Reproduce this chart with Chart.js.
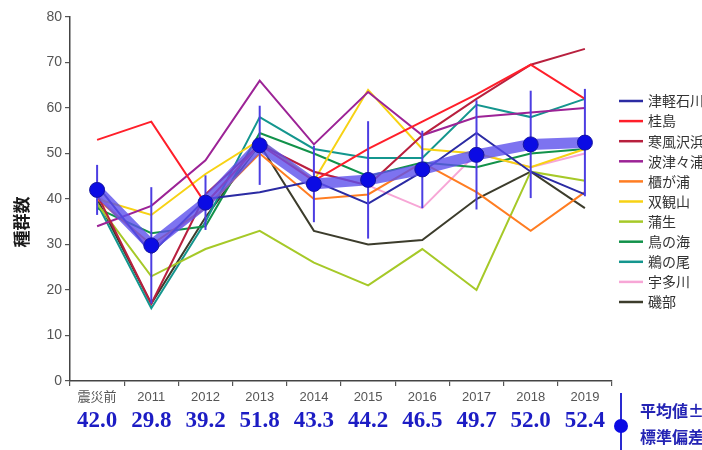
<!DOCTYPE html>
<html>
<head>
<meta charset="utf-8">
<script src="https://cdn.jsdelivr.net/npm/chart.js@4.4.1/dist/chart.umd.min.js"></script>
<style>
  html, body { margin: 0; padding: 0; background: #fff; }
  #wrap { width: 702px; height: 450px; }
</style>
</head>
<body>
<div id="wrap"><canvas id="c" width="702" height="450"></canvas></div>
<script>
// Survey periods
const categories = ['震災前', '2011', '2012', '2013', '2014', '2015', '2016', '2017', '2018', '2019'];

// Number of species groups per site
const tsugaruishi = [43, 28, 40, 41.5, 44, 39, 46, 54.5, 46, 41];
const katsurajima = [53, 57, 39, 52, 44, 51, 57, 63, 69.5, 62];
const sabusawa    = [41, 17, 41, 52, 46, 43, 54, 62, 69.5, 73];
const hatsutsuura = [34, 38.5, 48.5, 66, 52, 63.5, 54, 58, 59, 60];
const hitsugaura  = [40, 30, 38, 50, 40, 41, 48, 41.5, 33, 41.5];
const sokanzan    = [40, 36.5, 45.5, 53, 44, 64, 51, 50, 47, 51];
const gamo        = [39, 23, 29, 33, 26, 21, 29, 20, 46, 44];
const torinoumi   = [38, 32.5, 34, 54.5, 50, 45, 48, 47, 50, 51];
const unoo        = [39, 16, 35, 58, 51, 49, 49, 60.7, 58, 62];
const udagawa     = [41, 29, 38, 52, 46, 43, 38, 50, 47, 50];
const isobe       = [40, 17, 36, 52, 33, 30, 31, 40, 46, 38];

// Site mean and standard deviation
const meanValues = [42.0, 29.8, 39.2, 51.8, 43.3, 44.2, 46.5, 49.7, 52.0, 52.4];
const sdValues   = [5.5, 12.8, 6.0, 8.7, 8.4, 12.9, 8.5, 12.0, 11.8, 11.8];

const yTicks = [0, 10, 20, 30, 40, 50, 60, 70, 80];

const sites = [
  { name: '津軽石川', data: tsugaruishi, color: '#2b2ba3' },
  { name: '桂島',     data: katsurajima, color: '#ff1f2a' },
  { name: '寒風沢浜', data: sabusawa,    color: '#b8203e' },
  { name: '波津々浦', data: hatsutsuura, color: '#9c2396' },
  { name: '櫃が浦',   data: hitsugaura,  color: '#ff7d22' },
  { name: '双観山',   data: sokanzan,    color: '#f7d214' },
  { name: '蒲生',     data: gamo,        color: '#a6c928' },
  { name: '鳥の海',   data: torinoumi,   color: '#12924a' },
  { name: '鵜の尾',   data: unoo,        color: '#14968e' },
  { name: '宇多川',   data: udagawa,     color: '#f7a6d6' },
  { name: '磯部',     data: isobe,       color: '#3c3c2c' }
];

const meanDataset = {
  label: '平均値±標準偏差',
  data: meanValues,
  borderColor: 'rgba(92, 80, 236, 0.8)',
  borderWidth: 11,
  pointRadius: 7.5,
  pointBackgroundColor: '#0b0be4',
  pointBorderColor: '#1414a0',
  pointBorderWidth: 1,
  tension: 0,
  isMean: true
};

const siteDatasets = sites.map(s => ({
  label: s.name,
  data: s.data,
  borderColor: s.color,
  backgroundColor: s.color,
  borderWidth: 2,
  pointRadius: 0,
  tension: 0
}));

// Error bars drawn just before the mean series so the dots sit on top
const errorBars = {
  id: 'errorBars',
  beforeDatasetDraw(chart, args) {
    const ds = chart.data.datasets[args.index];
    if (!ds.isMean) return;
    const { ctx, scales: { x, y } } = chart;
    ctx.save();
    ctx.strokeStyle = '#4c3ee2';
    ctx.lineWidth = 2;
    meanValues.forEach((m, i) => {
      const px = x.getPixelForValue(i);
      ctx.beginPath();
      ctx.moveTo(px, y.getPixelForValue(m + sdValues[i]));
      ctx.lineTo(px, y.getPixelForValue(m - sdValues[i]));
      ctx.stroke();
    });
    ctx.restore();
  }
};

// Side legend, axis title, mean labels under the axis and the mean key
const annotations = {
  id: 'annotations',
  afterDraw(chart) {
    const { ctx, scales: { x } } = chart;
    ctx.save();

    // site legend
    ctx.font = '14px "Noto Sans CJK JP", sans-serif';
    ctx.textBaseline = 'middle';
    ctx.textAlign = 'left';
    sites.forEach((s, i) => {
      const yy = 101 + i * 20.1;
      ctx.strokeStyle = s.color;
      ctx.lineWidth = 2.5;
      ctx.beginPath();
      ctx.moveTo(619, yy);
      ctx.lineTo(643, yy);
      ctx.stroke();
      ctx.fillStyle = '#333';
      ctx.fillText(s.name, 648, yy);
    });

    // y axis title
    ctx.save();
    ctx.translate(22, 222);
    ctx.rotate(-Math.PI / 2);
    ctx.textAlign = 'center';
    ctx.fillStyle = '#1a1a1a';
    ctx.font = 'bold 17px "Noto Sans CJK JP", sans-serif';
    ctx.fillText('種群数', 0, 0);
    ctx.restore();

    // mean values under each category
    ctx.fillStyle = '#1c1cc4';
    ctx.textAlign = 'center';
    ctx.font = 'bold 23px "Liberation Serif", serif';
    meanValues.forEach((m, i) => {
      ctx.fillText(m.toFixed(1), x.getPixelForValue(i), 421);
    });

    // mean ± SD key
    ctx.strokeStyle = '#2a2ad0';
    ctx.lineWidth = 2;
    ctx.beginPath();
    ctx.moveTo(621, 393);
    ctx.lineTo(621, 450);
    ctx.stroke();
    ctx.fillStyle = '#0b0be4';
    ctx.beginPath();
    ctx.arc(621, 426, 7, 0, Math.PI * 2);
    ctx.fill();
    ctx.fillStyle = '#2424b4';
    ctx.textAlign = 'left';
    ctx.font = 'bold 16px "Noto Sans CJK JP", sans-serif';
    ctx.fillText('平均値±', 640, 411);
    ctx.fillText('標準偏差', 640, 437);

    ctx.restore();
  }
};

new Chart(document.getElementById('c'), {
  type: 'line',
  data: { labels: categories, datasets: [meanDataset, ...siteDatasets] },
  options: {
    responsive: false,
    animation: false,
    devicePixelRatio: 1,
    layout: { padding: { left: 0, right: 90, top: 17, bottom: 0 } },
    plugins: { legend: { display: false }, tooltip: { enabled: false } },
    scales: {
      x: {
        offset: true,
        grid: { offset: true, drawOnChartArea: false, tickLength: 5, color: '#555', lineWidth: 1.2 },
        border: { color: '#444', width: 1.5 },
        ticks: {
          color: '#555', autoSkip: false, maxRotation: 0, padding: 4,
          font: { family: '"Liberation Sans", "Noto Sans CJK JP", sans-serif', size: 13 }
        },
        afterFit(scale) { scale.height = 69; }
      },
      y: {
        min: 0, max: 80,
        afterBuildTicks(scale) { scale.ticks = yTicks.map(v => ({ value: v })); },
        grid: { drawOnChartArea: false, tickLength: 5, color: '#555', lineWidth: 1.2 },
        border: { color: '#444', width: 1.5 },
        ticks: {
          color: '#555', padding: 3,
          font: { family: '"Liberation Sans", sans-serif', size: 14 }
        },
        afterFit(scale) { scale.width = 70; }
      }
    }
  },
  plugins: [errorBars, annotations]
});
</script>
</body>
</html>
